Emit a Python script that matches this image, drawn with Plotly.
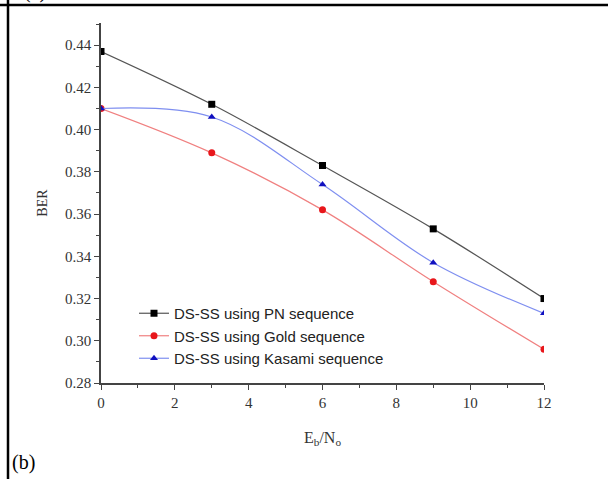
import plotly.graph_objects as go

x_vals = [0, 3, 6, 9, 12]
pn_ber = [0.437, 0.412, 0.383, 0.353, 0.320]
gold_ber = [0.410, 0.389, 0.362, 0.328, 0.296]
kasami_ber = [0.410, 0.406, 0.374, 0.337, 0.313]
series_names = ["DS-SS using PN sequence", "DS-SS using Gold sequence", "DS-SS using Kasami sequence"]
x_ticks = [0, 2, 4, 6, 8, 10, 12]
y_ticks = [0.28, 0.30, 0.32, 0.34, 0.36, 0.38, 0.40, 0.42, 0.44]

fig = go.Figure()
styles = [
    (pn_ber, "#000000", "#555555", "square"),
    (gold_ber, "#e8161b", "#f08080", "circle"),
    (kasami_ber, "#1010c0", "#7f8ff0", "triangle-up"),
]
for name, (vals, mc, lc, sym) in zip(series_names, styles):
    fig.add_trace(go.Scatter(
        x=x_vals, y=vals, name=name, mode="lines+markers",
        line=dict(color=lc, width=1.2, shape="spline", smoothing=1.0),
        marker=dict(color=mc, symbol=sym, size=7),
    ))

axis_col = "#444444"
tickfont = dict(family="Liberation Serif", size=15, color="#333333")

def px_x(p):
    return (p - 101) / 443.0

def px_y(p):
    return (383 - p) / 360.0

fig.update_layout(
    width=608, height=479, autosize=False,
    margin=dict(l=101, r=64, t=23, b=96),
    paper_bgcolor="white", plot_bgcolor="white",
    showlegend=True,
    legend=dict(x=px_x(134), y=px_y(297), xanchor="left", yanchor="top",
                bgcolor="rgba(0,0,0,0)", tracegroupgap=0,
                font=dict(family="Liberation Sans", size=15, color="#222222")),
    xaxis=dict(range=[0, 12], tickvals=x_ticks, ticks="outside", ticklen=5,
               tickwidth=1.2, tickcolor=axis_col, showline=True, linecolor=axis_col,
               linewidth=1.5, showgrid=False, zeroline=False, tickfont=tickfont,
               minor=dict(dtick=1, ticks="outside", ticklen=3, tickcolor=axis_col),
               title=dict(text="E<sub>b</sub>/N<sub>o</sub>", standoff=22,
                          font=dict(family="Liberation Serif", size=16, color="#333333"))),
    yaxis=dict(range=[0.28, 0.4505], tickvals=y_ticks, tickformat=".2f", ticks="outside",
               ticklen=5, tickwidth=1.2, tickcolor=axis_col, showline=True,
               linecolor=axis_col, linewidth=1.5, showgrid=False, zeroline=False,
               tickfont=tickfont,
               minor=dict(dtick=0.01, ticks="outside", ticklen=3, tickcolor=axis_col),
               title=dict(text="BER", standoff=14,
                          font=dict(family="Liberation Serif", size=14, color="#333333"))),
    xaxis2=dict(overlaying="x", side="top", range=[0, 12], tickvals=x_ticks,
                ticks="inside", ticklen=5, tickcolor=axis_col, showticklabels=False,
                showline=True, linecolor=axis_col, linewidth=1.5, showgrid=False,
                zeroline=False,
                minor=dict(dtick=1, ticks="inside", ticklen=3, tickcolor=axis_col)),
    yaxis2=dict(overlaying="y", side="right", range=[0.28, 0.4505], tickvals=y_ticks,
                ticks="inside", ticklen=5, tickcolor=axis_col, showticklabels=False,
                showline=True, linecolor=axis_col, linewidth=1.5, showgrid=False,
                zeroline=False,
                minor=dict(dtick=0.01, ticks="inside", ticklen=3, tickcolor=axis_col)),
)

# outer table-cell frame
fig.add_shape(type="line", xref="paper", yref="paper", x0=px_x(0), x1=px_x(608),
              y0=px_y(5), y1=px_y(5), line=dict(color="black", width=2.5))
fig.add_shape(type="line", xref="paper", yref="paper", x0=px_x(8), x1=px_x(8),
              y0=px_y(0), y1=px_y(479), line=dict(color="black", width=2.5))

fig.add_annotation(text="(b)", xref="paper", yref="paper", x=px_x(10), y=px_y(462),
                   xanchor="left", yanchor="middle", showarrow=False,
                   font=dict(family="Liberation Serif", size=20, color="black"))
fig.add_annotation(text="(a)", xref="paper", yref="paper", x=px_x(22), y=px_y(-9),
                   xanchor="left", yanchor="middle", showarrow=False,
                   font=dict(family="Liberation Serif", size=20, color="black"))

fig.write_html("out.html", config={"displayModeBar": False},
               post_script="document.body.style.margin='0';document.body.style.overflow='hidden';")
